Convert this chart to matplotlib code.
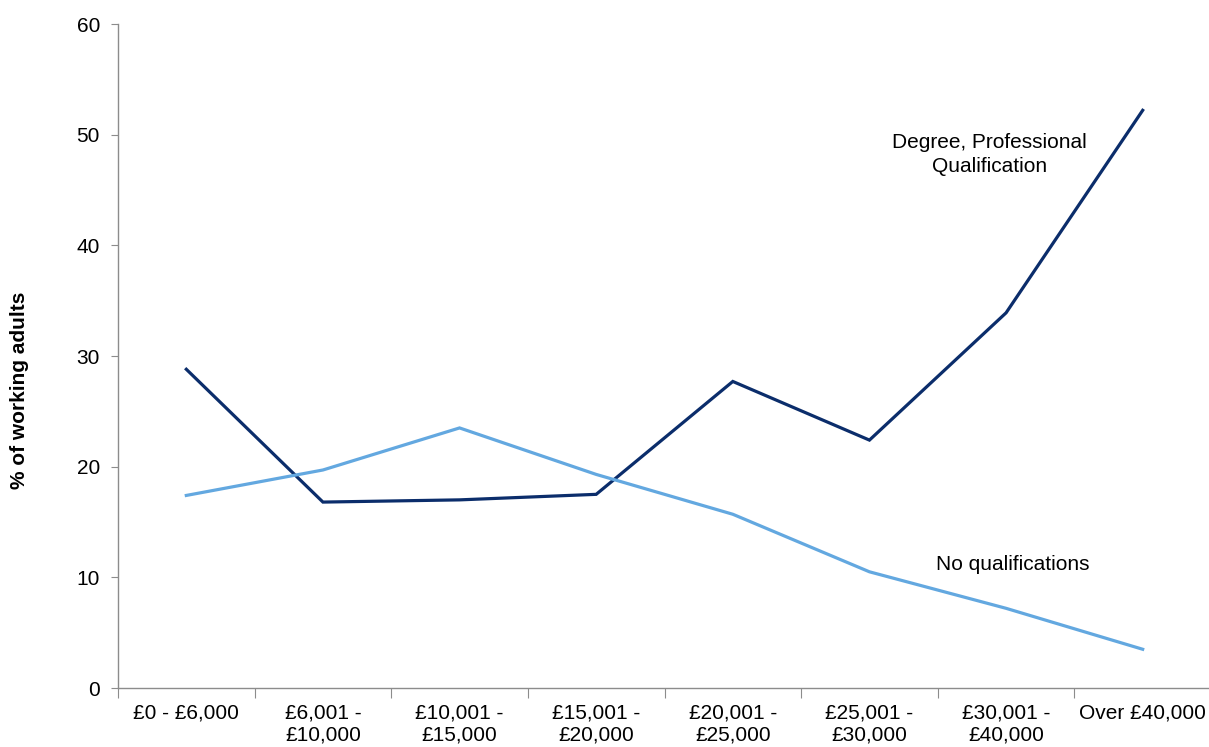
import matplotlib
matplotlib.use("Agg")
import matplotlib.pyplot as plt
import numpy as np

plt.rcParams['font.family'] = ['Liberation Sans', 'DejaVu Sans']

# Income bands and shares of working adults in each band
bands = ["£0 - £6,000", "£6,001 -\n£10,000", "£10,001 -\n£15,000", "£15,001 -\n£20,000",
         "£20,001 -\n£25,000", "£25,001 -\n£30,000", "£30,001 -\n£40,000", "Over £40,000"]
degree = [28.8, 16.8, 17.0, 17.5, 27.7, 22.4, 33.9, 52.2]
no_quals = [17.4, 19.7, 23.5, 19.3, 15.7, 10.5, 7.2, 3.5]
y_ticks = [0, 10, 20, 30, 40, 50, 60]

W, H = 1209, 747
fig = plt.figure(figsize=(W / 100, H / 100), dpi=100)
ax = fig.add_axes([118 / W, (H - 688) / H, (1211 - 118) / W, (688 - 24) / H])

x = np.arange(len(bands)) + 0.5
ax.plot(x, degree, color="#0b2d6b", lw=2.3, solid_joinstyle="miter")
ax.plot(x, no_quals, color="#63a8e0", lw=2.3, solid_joinstyle="miter")

ax.set_xlim(0, len(bands))
ax.set_ylim(0, 60)
ax.set_yticks(y_ticks)
ax.set_xticks(np.arange(len(bands) + 1))
ax.set_xticklabels([])
ax.set_xticks(x, minor=True)
ax.set_xticklabels(bands, minor=True, linespacing=1.2)

grey = "#8c8c8c"
for side in ("top", "right"):
    ax.spines[side].set_visible(False)
for side in ("left", "bottom"):
    ax.spines[side].set_color(grey)
    ax.spines[side].set_linewidth(1.0)

ax.tick_params(axis="y", which="major", length=5, color=grey, labelsize=15, pad=8)
ax.tick_params(axis="x", which="major", length=7, color=grey, direction="out")
ax.tick_params(axis="x", which="minor", length=0, labelsize=15, pad=11)

ax.set_ylabel("% of working adults", fontsize=15, fontweight="bold")
ax.yaxis.set_label_coords(-0.081, 0.449)

ax.text(6.38, 48.2, "Degree, Professional\nQualification", ha="center", va="center",
        fontsize=15, linespacing=1.3)
ax.text(6.55, 11.2, "No qualifications", ha="center", va="center", fontsize=15)

fig.savefig("out.png", dpi=100)
